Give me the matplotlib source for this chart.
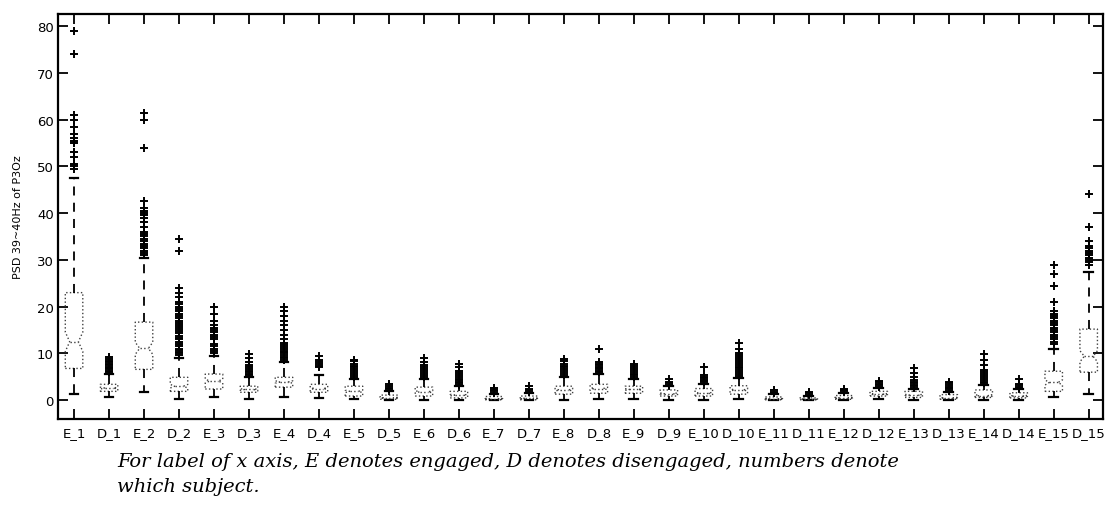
import numpy as np
import matplotlib
matplotlib.use("Agg")
import matplotlib.pyplot as plt

# box plot summary (PSD 39~40Hz of P3Oz)
labels = ['E_1', 'D_1', 'E_2', 'D_2', 'E_3', 'D_3', 'E_4', 'D_4', 'E_5', 'D_5',
          'E_6', 'D_6', 'E_7', 'D_7', 'E_8', 'D_8', 'E_9', 'D_9', 'E_10', 'D_10',
          'E_11', 'D_11', 'E_12', 'D_12', 'E_13', 'D_13', 'E_14', 'D_14', 'E_15', 'D_15']

q1 = [6.8, 1.9, 6.6, 1.9, 2.4, 1.7, 2.8, 1.7, 0.9, 0.2,
      0.9, 0.5, 0.1, 0.1, 1.3, 1.5, 1.5, 0.9, 0.9, 1.3,
      0.1, 0.1, 0.2, 0.9, 0.6, 0.2, 0.6, 0.5, 1.9, 6.0]
med = [12.5, 2.6, 11.1, 3.0, 4.1, 2.3, 3.9, 2.5, 1.9, 0.5,
       1.8, 1.1, 0.3, 0.4, 2.2, 2.5, 2.3, 1.4, 1.5, 2.2,
       0.3, 0.2, 0.5, 1.3, 1.1, 0.5, 1.0, 0.9, 3.8, 9.4]
q3 = [23.0, 3.4, 16.7, 4.9, 5.6, 3.0, 4.9, 3.4, 3.0, 1.1,
      2.8, 1.9, 0.8, 0.9, 3.0, 3.4, 3.0, 2.2, 2.5, 3.1,
      0.7, 0.5, 1.0, 1.9, 1.9, 1.2, 2.2, 1.6, 6.2, 15.2]
whis_lo = [1.3, 0.6, 1.7, 0.2, 0.6, 0.2, 0.6, 0.4, 0.2, 0.0,
           0.1, 0.0, 0.0, 0.0, 0.1, 0.2, 0.2, 0.1, 0.1, 0.2,
           0.0, 0.0, 0.0, 0.2, 0.0, 0.0, 0.0, 0.0, 0.6, 1.3]
whis_hi = [47.5, 5.6, 30.5, 9.0, 9.4, 5.0, 8.2, 5.5, 4.6, 2.0,
           4.5, 3.0, 1.4, 1.6, 5.0, 5.6, 4.5, 3.0, 3.4, 4.8,
           1.3, 1.0, 1.6, 2.6, 2.4, 1.7, 3.2, 2.3, 11.0, 27.5]

outliers = [
    [49.5, 50, 50.5, 52, 53, 55, 55.5, 56, 57, 58.5, 60, 61, 74, 79],
    [6, 6.3, 6.6, 6.9, 7.2, 7.5, 7.8, 8.1, 8.4, 8.8, 9.3],
    [31, 31.5, 32, 32.5, 33, 33.5, 34, 34.5, 35, 35.5, 36, 37, 38, 39, 39.5,
     40, 40.5, 41, 42.5, 54, 60, 61.5],
    [9.6, 10, 10.3, 10.7, 11, 11.5, 12, 12.5, 13, 13.4, 13.8, 14.3, 14.8, 15.2,
     15.6, 16, 16.5, 17, 17.5, 18, 18.5, 19, 19.5, 20, 20.5, 21, 22, 23, 24, 32, 34.5],
    [10, 10.5, 11, 11.5, 12, 13, 13.5, 14, 14.5, 15, 15.5, 16, 17, 18.5, 20],
    [5.4, 5.7, 6, 6.3, 6.6, 7, 7.5, 8.2, 9, 9.8],
    [8.7, 9, 9.3, 9.6, 10, 10.3, 10.6, 11, 11.4, 11.8, 12.3, 13, 14, 15, 16,
     17, 18, 19, 20],
    [7, 7.4, 7.8, 8.2, 8.6, 9.5],
    [5, 5.4, 5.8, 6.2, 6.6, 7, 7.4, 7.8, 8.3, 8.7],
    [2.3, 2.6, 3, 3.5],
    [5, 5.4, 5.8, 6.2, 6.6, 7, 7.5, 8.2, 9],
    [3.3, 3.6, 4, 4.3, 4.6, 5, 5.4, 5.8, 6.3, 7, 7.8],
    [1.6, 1.9, 2.2, 2.6],
    [1.8, 2.1, 2.5, 3.0],
    [5.4, 5.8, 6.2, 6.6, 7, 7.4, 7.8, 8.3, 8.9],
    [6, 6.3, 6.6, 6.9, 7.2, 7.5, 7.8, 8.1, 11],
    [5, 5.3, 5.6, 6, 6.4, 6.8, 7.3, 7.8],
    [3.3, 3.6, 4, 4.5],
    [3.8, 4.1, 4.4, 4.7, 5, 5.3, 7],
    [5.2, 5.6, 6, 6.4, 6.8, 7.2, 7.6, 8, 8.4, 8.8, 9.2, 9.6, 10.2, 11, 12.3],
    [1.5, 1.8, 2.1],
    [1.2, 1.5, 1.8],
    [1.9, 2.2, 2.5],
    [2.9, 3.2, 3.5, 3.8, 4.2],
    [2.7, 3, 3.3, 3.6, 4, 4.4, 5, 5.8, 6.8],
    [2, 2.3, 2.6, 2.9, 3.2, 3.6, 4],
    [3.6, 4, 4.4, 4.8, 5.2, 5.6, 6, 6.5, 7.5, 8.5, 9.8],
    [2.6, 2.9, 3.2, 3.5, 4.5],
    [12, 12.5, 13, 13.5, 14, 14.5, 15, 15.5, 16, 16.5, 17, 17.5, 18, 18.5, 19,
     21, 24.5, 27, 29],
    [29, 29.5, 30, 30.5, 31, 31.5, 32, 32.5, 33, 34, 37, 44],
]

n_obs = 150  # samples per box, only used for the notch width

caption1 = "For label of x axis, E denotes engaged, D denotes disengaged, numbers denote"
caption2 = "which subject."

stats = []
for i in range(len(labels)):
    half = 1.57 * (q3[i] - q1[i]) / np.sqrt(n_obs)
    stats.append({
        'label': labels[i],
        'med': med[i], 'q1': q1[i], 'q3': q3[i],
        'whislo': whis_lo[i], 'whishi': whis_hi[i],
        'cilo': med[i] - half, 'cihi': med[i] + half,
        'fliers': outliers[i],
    })

fig = plt.figure(figsize=(11.06, 5.10), dpi=100)
ax = fig.add_axes([0.0524, 0.176, 0.9446, 0.795])

ax.bxp(stats, shownotches=True, widths=0.5,
       boxprops=dict(color='0.25', linestyle=':', linewidth=1.0),
       medianprops=dict(color='0.25', linestyle=':', linewidth=1.0),
       whiskerprops=dict(color='black', linestyle=(0, (5, 4)), linewidth=1.3),
       capprops=dict(color='black', linewidth=1.6),
       flierprops=dict(marker='+', markeredgecolor='black', markersize=6,
                       markeredgewidth=1.4, linestyle='none'))

ax.set_xlim(0.54, 30.4)
ax.set_ylim(-4.06, 82.6)
ax.set_yticks(np.arange(0, 81, 10))
ax.tick_params(axis='both', direction='in', top=True, right=True,
               length=7, width=1.3, labelsize=9.5)
ax.tick_params(axis='x', pad=5)
ax.tick_params(axis='y', pad=3)
for sp in ax.spines.values():
    sp.set_linewidth(1.6)

fig.text(0.016, 0.574, 'PSD 39~40Hz of P3Oz', rotation=90, fontsize=8,
         ha='center', va='center')

fig.text(0.106, 0.094, caption1, family='DejaVu Serif', style='italic',
         fontsize=14, ha='left', va='center')
fig.text(0.106, 0.045, caption2, family='DejaVu Serif', style='italic',
         fontsize=14, ha='left', va='center')

fig.savefig('out.png', dpi=100)
